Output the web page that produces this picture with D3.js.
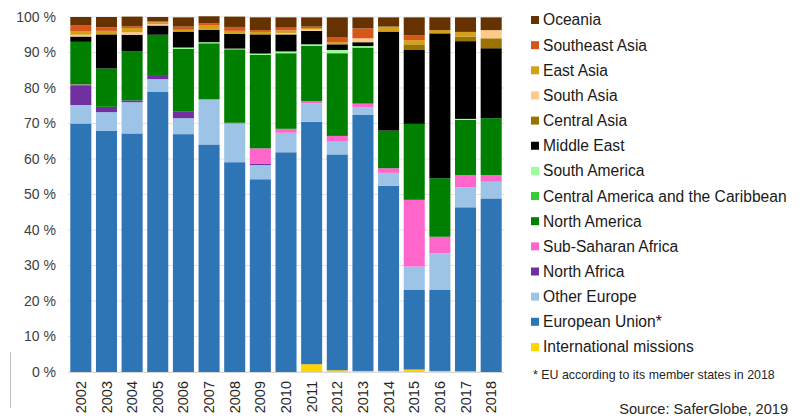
<!DOCTYPE html>
<html>
<head>
<meta charset="utf-8">
<script src="https://cdn.jsdelivr.net/npm/d3@7"></script>
<style>
  body { margin: 0; background: #fff; }
  svg { display: block; font-family: "Liberation Sans", Arial, sans-serif; }
</style>
</head>
<body>
<div id="chart"></div>
<script>
const width = 802;
const height = 417;

const years = ["2002","2003","2004","2005","2006","2007","2008","2009","2010","2011","2012","2013","2014","2015","2016","2017","2018"];

// shares in %, bottom of the stack first
const internationalMissions = [0, 0, 0, 0, 0, 0, 0, 0, 0, 2.2, 0.5, 0.3, 0.3, 0.7, 0.3, 0.2, 0];
const europeanUnion = [70.0, 68.0, 67.2, 79.0, 67.0, 64.1, 59.1, 54.3, 61.9, 68.3, 60.8, 72.1, 52.2, 22.4, 22.8, 46.2, 48.9];
const otherEurope = [5.2, 5.2, 8.8, 3.5, 4.5, 12.7, 10.8, 4.0, 5.5, 5.2, 3.6, 2.1, 3.6, 6.6, 10.3, 5.6, 4.7];
const northAfrica = [5.6, 1.5, 0.5, 0.9, 1.8, 0, 0, 0.3, 0, 0, 0, 0, 0, 0, 0, 0, 0];
const subSaharanAfrica = [0.2, 0, 0, 0, 0, 0, 0.3, 4.4, 1.1, 0.6, 1.6, 1.1, 1.3, 18.8, 4.7, 3.5, 1.9];
const northAmerica = [12.0, 10.8, 13.8, 11.6, 17.7, 15.8, 20.7, 26.3, 21.3, 15.6, 23.3, 15.8, 10.6, 21.4, 16.5, 15.5, 16.0];
const centralAmerica = [0, 0, 0, 0, 0, 0, 0, 0, 0, 0, 0, 0, 0, 0, 0, 0, 0];
const southAmerica = [0, 0, 0, 0, 0.4, 0.3, 0.2, 0.4, 0.5, 0.4, 0.9, 0.4, 0, 0, 0, 0.3, 0];
const middleEast = [1.5, 9.6, 4.7, 2.6, 4.5, 3.5, 4.2, 5.4, 4.8, 3.8, 1.6, 1.1, 27.9, 20.8, 40.8, 21.9, 19.7];
const centralAsia = [0, 0, 0, 0, 0, 0, 0, 0, 0, 0, 0, 0, 0, 1.6, 0, 1.3, 2.8];
const southAsia = [0.5, 0, 0.7, 0.4, 0, 0, 0, 0, 0.4, 0.4, 0, 1.1, 0, 0, 0, 0, 2.3];
const eastAsia = [0.9, 1.0, 1.2, 0.5, 0.5, 1.2, 0.8, 0.7, 0.7, 0.4, 0.6, 0, 1.4, 1.2, 0.9, 1.3, 0];
const southeastAsia = [1.7, 1.0, 0.5, 0.3, 0.9, 0.6, 1.1, 0.5, 0.8, 0.4, 1.3, 2.8, 0, 1.4, 0, 0, 0];
const oceania = [2.4, 2.9, 2.7, 1.2, 2.6, 2.0, 2.9, 3.6, 2.9, 2.6, 5.7, 3.1, 2.6, 5.0, 3.6, 4.1, 3.6];

const regions = ["International missions", "European Union*", "Other Europe", "North Africa", "Sub-Saharan Africa",
  "North America", "Central America and the Caribbean", "South America", "Middle East", "Central Asia",
  "South Asia", "East Asia", "Southeast Asia", "Oceania"];
const regionValues = [internationalMissions, europeanUnion, otherEurope, northAfrica, subSaharanAfrica,
  northAmerica, centralAmerica, southAmerica, middleEast, centralAsia, southAsia, eastAsia, southeastAsia, oceania];
const regionColors = ["#ffd400", "#2e75b6", "#9dc3e6", "#7030a0", "#ff66cc", "#008000", "#33cc33", "#99ff99",
  "#000000", "#9c7300", "#ffc98a", "#d4a017", "#d5581a", "#663300"];

const yTicks = [0, 10, 20, 30, 40, 50, 60, 70, 80, 90, 100];

const table = years.map((y, i) => {
  const row = { year: y };
  regions.forEach((r, k) => row[r] = regionValues[k][i]);
  return row;
});

const margin = { top: 17, left: 68, right: 298, bottom: 45 };

const x = d3.scaleBand().domain(years)
  .range([margin.left, width - margin.right])
  .paddingInner(0.18).paddingOuter(0.09);

const y = d3.scaleLinear().domain([0, 100]).range([height - margin.bottom, margin.top]);

const color = d3.scaleOrdinal().domain(regions).range(regionColors);

const stack = d3.stack().keys(regions);
const series = stack(table);

const svg = d3.select("#chart").append("svg")
  .attr("width", width)
  .attr("height", height);

// gridlines
svg.append("g")
  .selectAll("line")
  .data(yTicks)
  .join("line")
  .attr("x1", margin.left)
  .attr("x2", width - margin.right)
  .attr("y1", d => y(d))
  .attr("y2", d => y(d))
  .attr("stroke", "#e3e3e3")
  .attr("stroke-width", 1);

// y axis labels
const yAxis = svg.append("g")
  .attr("transform", `translate(${margin.left},0)`)
  .call(d3.axisLeft(y).tickValues(yTicks).tickFormat(d => d + " %").tickSize(0).tickPadding(12));
yAxis.select(".domain").remove();
yAxis.selectAll("text")
  .style("font-size", "14px")
  .style("fill", "#404040")
  .style("font-family", "Liberation Sans, Arial, sans-serif");

// bars
svg.append("g")
  .selectAll("g")
  .data(series)
  .join("g")
  .attr("fill", d => color(d.key))
  .selectAll("rect")
  .data(d => d)
  .join("rect")
  .attr("x", d => x(d.data.year))
  .attr("width", x.bandwidth())
  .attr("y", d => y(d[1]))
  .attr("height", d => Math.max(0, y(d[0]) - y(d[1])));

// baseline
svg.append("line")
  .attr("x1", margin.left)
  .attr("x2", width - margin.right)
  .attr("y1", y(0) + 0.5)
  .attr("y2", y(0) + 0.5)
  .attr("stroke", "#d9d9d9");

// year labels
const xAxis = svg.append("g")
  .attr("transform", `translate(0,${y(0)})`)
  .call(d3.axisBottom(x).tickSize(0));
xAxis.select(".domain").remove();
xAxis.selectAll("text")
  .attr("transform", "rotate(-90)")
  .attr("text-anchor", "end")
  .attr("x", -9)
  .attr("y", 0)
  .attr("dy", "0.35em")
  .style("font-size", "14.5px")
  .style("fill", "#262626")
  .style("font-family", "Liberation Sans, Arial, sans-serif");

// stray vertical line at the left edge
svg.append("line")
  .attr("x1", 10.5).attr("x2", 10.5)
  .attr("y1", 352).attr("y2", 408)
  .attr("stroke", "#bfbfbf");

// legend, top entry first
const legendOrder = regions.slice().reverse();
const legend = svg.append("g")
  .selectAll("g")
  .data(legendOrder)
  .join("g")
  .attr("transform", (d, i) => `translate(531,${20 + i * 25.15})`);

legend.append("rect")
  .attr("x", 0)
  .attr("y", -4)
  .attr("width", 8)
  .attr("height", 8)
  .attr("fill", d => color(d));

legend.append("text")
  .attr("x", 12)
  .attr("dy", "0.35em")
  .style("font-size", "15.6px")
  .style("fill", "#1a1a1a")
  .text(d => d);

svg.append("text")
  .attr("x", 533)
  .attr("y", 379)
  .style("font-size", "12.4px")
  .style("fill", "#262626")
  .text("* EU according to its member states in 2018");

svg.append("text")
  .attr("x", 788)
  .attr("y", 414)
  .attr("text-anchor", "end")
  .style("font-size", "14.6px")
  .style("fill", "#262626")
  .text("Source: SaferGlobe, 2019");
</script>
</body>
</html>
